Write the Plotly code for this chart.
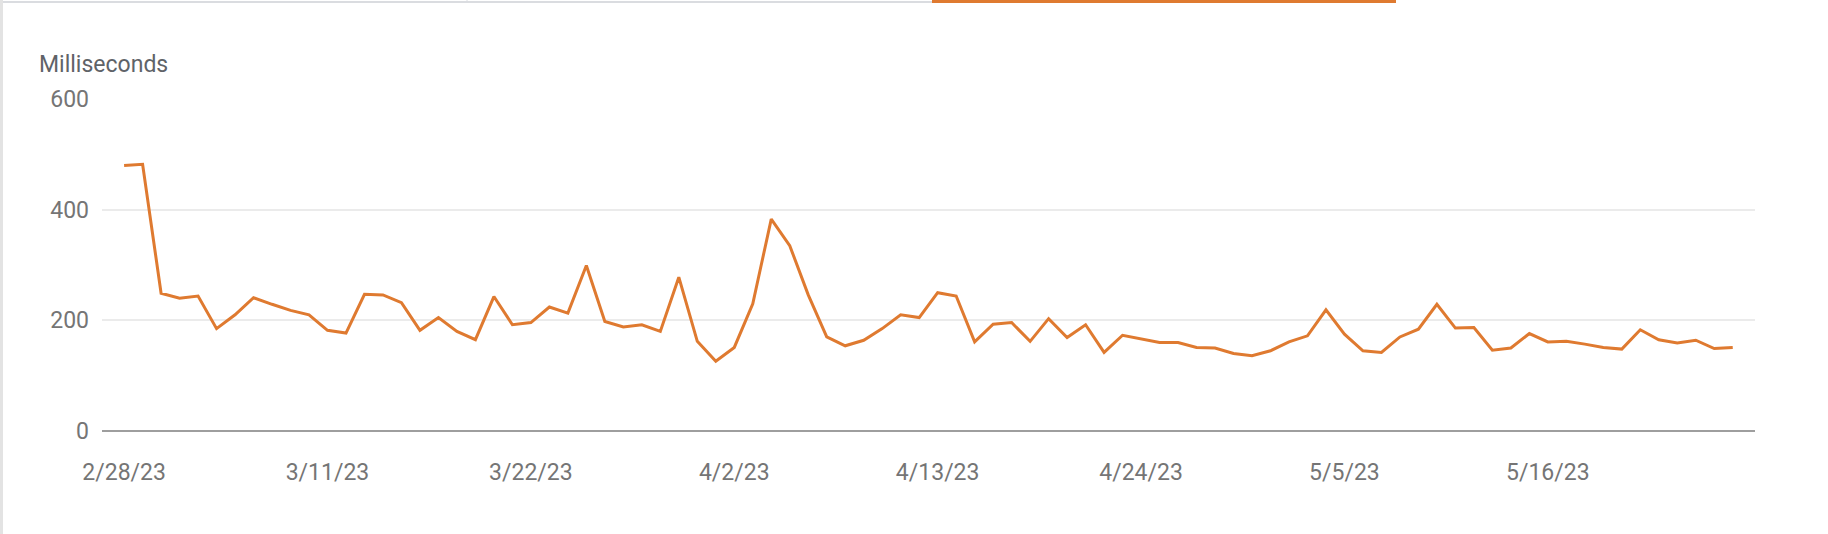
import pandas as pd
import plotly.graph_objects as go

# ---- data ----
start_date = "2023-02-28"
response_ms = [480, 482, 249, 240, 244, 185, 210, 241, 229, 218, 210, 182, 177, 247,
               246, 232, 182, 205, 180, 165, 243, 192, 196, 224, 213, 299, 198, 188,
               192, 180, 278, 162, 126, 151, 230, 383, 335, 246, 170, 154, 164, 185,
               210, 205, 250, 244, 161, 193, 196, 162, 203, 169, 192, 142, 173, 166,
               160, 160, 151, 150, 140, 136, 145, 161, 172, 219, 175, 145, 142, 170,
               184, 229, 186, 187, 146, 150, 176, 161, 162, 157, 151, 148, 183, 165,
               159, 164, 149, 151]
dates = pd.date_range(start_date, periods=len(response_ms), freq="D")
tick_dates = ["2023-02-28", "2023-03-11", "2023-03-22", "2023-04-02",
              "2023-04-13", "2023-04-24", "2023-05-05", "2023-05-16"]
tick_labels = ["2/28/23", "3/11/23", "3/22/23", "4/2/23",
               "4/13/23", "4/24/23", "5/5/23", "5/16/23"]
y_ticks = [0, 200, 400, 600]
y_title = "Milliseconds"

# ---- layout geometry ----
W, H = 1828, 534
ML, MR, MT, MB = 102, 73, 99, 103
PW, PH = W - ML - MR, H - MT - MB
ORANGE = "#df7a30"


def px(x):
    return (x - ML) / PW


def py(y):
    return (H - MB - y) / PH


fig = go.Figure()
fig.add_trace(go.Scatter(
    x=dates, y=response_ms, mode="lines",
    line=dict(color=ORANGE, width=3), hoverinfo="x+y", showlegend=False,
))

x0 = dates[0] - pd.Timedelta(hours=28.7)
x1 = dates[-1] + pd.Timedelta(hours=28.9)

fig.update_layout(
    width=W, height=H,
    margin=dict(l=ML, r=MR, t=MT, b=MB, pad=0),
    paper_bgcolor="white", plot_bgcolor="white",
    font=dict(family="Roboto, Arial, sans-serif", size=23, color="#757575"),
    xaxis=dict(
        range=[x0, x1], tickvals=tick_dates, ticktext=tick_labels,
        showgrid=False, zeroline=False, showline=False, ticks="",
        ticklabelstandoff=25, tickfont=dict(size=23, color="#757575"),
        fixedrange=True,
    ),
    yaxis=dict(
        range=[0, 600], tickvals=y_ticks, showgrid=True, gridcolor="#ebebeb",
        gridwidth=2, zeroline=True, zerolinecolor="#9e9e9e", zerolinewidth=2,
        showline=False, ticks="", ticklabelstandoff=12,
        tickfont=dict(size=23, color="#757575"), fixedrange=True,
    ),
    annotations=[dict(
        text=y_title, xref="paper", yref="paper", x=px(37), y=py(64.5),
        xanchor="left", yanchor="middle", showarrow=False,
        font=dict(size=23, color="#5f6368"),
    )],
    shapes=[
        # card top border (tab strip)
        dict(type="line", xref="paper", yref="paper", x0=px(3), x1=px(932),
             y0=py(2), y1=py(2), line=dict(color="#dadce0", width=2), layer="above"),
        dict(type="line", xref="paper", yref="paper", x0=px(467), x1=px(467),
             y0=py(0), y1=py(3), line=dict(color="#dadce0", width=1), layer="above"),
        dict(type="rect", xref="paper", yref="paper", x0=px(932), x1=px(1396),
             y0=py(0), y1=py(3), line=dict(width=0), fillcolor=ORANGE, layer="above"),
        # card left border
        dict(type="line", xref="paper", yref="paper", x0=px(1.5), x1=px(1.5),
             y0=py(0), y1=py(534), line=dict(color="#e3e3e3", width=3), layer="above"),
    ],
)

fig.write_html("out.html", config={"displayModeBar": False},
               post_script="document.body.style.margin='0';")
